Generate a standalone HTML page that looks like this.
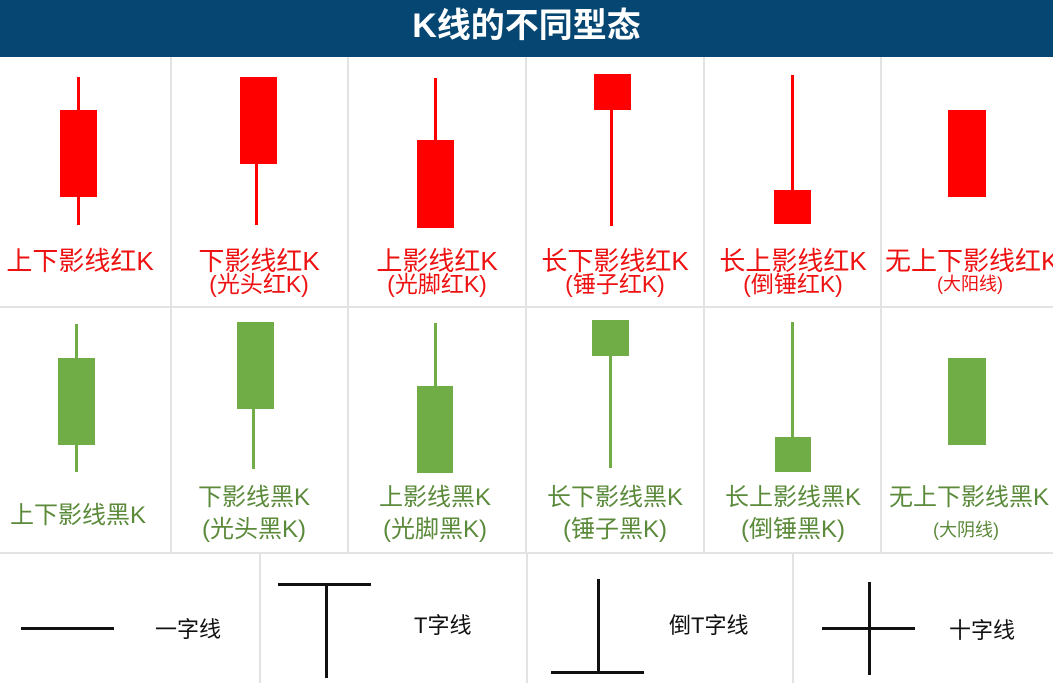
<!DOCTYPE html>
<html><head><meta charset="utf-8"><style>
*{margin:0;padding:0;box-sizing:border-box}
body{width:1053px;height:683px;background:#fff;position:relative;overflow:hidden;font-family:"Liberation Sans","Noto Sans CJK SC",sans-serif}
div{position:absolute}
.hd{left:0;top:0;width:1053px;height:57px;background:#054672;color:#fff;font-size:34px;font-weight:bold;text-align:center;line-height:52px}
.vl{width:2px;background:#e3e3e3}
.hl{height:2px;background:#e3e3e3}
.r{background:#ff0000}
.g{background:#70ad47}
.k{background:#111}
.t{width:178px;text-align:center;white-space:nowrap;line-height:1}
.tr{color:#ee1111}
.tg{color:#5a8a3a}
.b{font-size:26px}
.s{font-size:23px}
.x{font-size:18px}
.gg{font-size:24px}
.bk{color:#111;font-size:22px;white-space:nowrap;line-height:1}
</style></head><body>
<div class="hd">K线的不同型态</div>
<div class="hl" style="left:0;top:306px;width:1053px"></div>
<div class="hl" style="left:0;top:552px;width:1053px"></div>
<div class="vl" style="left:170px;top:57px;height:496px"></div>
<div class="vl" style="left:347px;top:57px;height:496px"></div>
<div class="vl" style="left:525px;top:57px;height:496px"></div>
<div class="vl" style="left:703px;top:57px;height:496px"></div>
<div class="vl" style="left:880px;top:57px;height:496px"></div>
<div class="vl" style="left:259px;top:553px;height:130px"></div>
<div class="vl" style="left:526px;top:553px;height:130px"></div>
<div class="vl" style="left:792px;top:553px;height:130px"></div>

<!-- red -->
<div class="r" style="left:77px;top:77px;width:3px;height:148px"></div>
<div class="r" style="left:60px;top:110px;width:37px;height:87px"></div>
<div class="r" style="left:255px;top:164px;width:3px;height:61px"></div>
<div class="r" style="left:240px;top:77px;width:37px;height:87px"></div>
<div class="r" style="left:434px;top:78px;width:3px;height:62px"></div>
<div class="r" style="left:417px;top:140px;width:37px;height:88px"></div>
<div class="r" style="left:610px;top:110px;width:3px;height:116px"></div>
<div class="r" style="left:594px;top:74px;width:37px;height:36px"></div>
<div class="r" style="left:791px;top:75px;width:3px;height:115px"></div>
<div class="r" style="left:774px;top:190px;width:37px;height:34px"></div>
<div class="r" style="left:948px;top:110px;width:38px;height:87px"></div>

<div class="t tr b" style="left:-9px;top:248px">上下影线红K</div>
<div class="t tr b" style="left:170px;top:248px">下影线红K</div>
<div class="t tr s" style="left:170px;top:273px">(光头红K)</div>
<div class="t tr b" style="left:348px;top:248px">上影线红K</div>
<div class="t tr s" style="left:348px;top:273px">(光脚红K)</div>
<div class="t tr b" style="left:526px;top:248px">长下影线红K</div>
<div class="t tr s" style="left:526px;top:273px">(锤子红K)</div>
<div class="t tr b" style="left:885px;top:248px;text-align:left;width:200px">无上下影线红K</div>
<div class="t tr b" style="left:704px;top:248px">长上影线红K</div>
<div class="t tr s" style="left:704px;top:273px">(倒锤红K)</div>
<div class="t tr x" style="left:881px;top:275px">(大阳线)</div>

<!-- green -->
<div class="g" style="left:75px;top:324px;width:3px;height:148px"></div>
<div class="g" style="left:58px;top:358px;width:37px;height:87px"></div>
<div class="g" style="left:252px;top:409px;width:3px;height:60px"></div>
<div class="g" style="left:237px;top:322px;width:37px;height:87px"></div>
<div class="g" style="left:434px;top:323px;width:3px;height:63px"></div>
<div class="g" style="left:417px;top:386px;width:36px;height:87px"></div>
<div class="g" style="left:609px;top:356px;width:3px;height:112px"></div>
<div class="g" style="left:592px;top:320px;width:37px;height:36px"></div>
<div class="g" style="left:791px;top:322px;width:3px;height:115px"></div>
<div class="g" style="left:775px;top:437px;width:36px;height:35px"></div>
<div class="g" style="left:948px;top:358px;width:38px;height:87px"></div>

<div class="t tg gg" style="left:-11px;top:504px">上下影线黑K</div>
<div class="t tg gg" style="left:165px;top:486px">下影线黑K</div>
<div class="t tg gg" style="left:165px;top:518px">(光头黑K)</div>
<div class="t tg gg" style="left:346px;top:486px">上影线黑K</div>
<div class="t tg gg" style="left:346px;top:518px">(光脚黑K)</div>
<div class="t tg gg" style="left:526px;top:486px">长下影线黑K</div>
<div class="t tg gg" style="left:526px;top:518px">(锤子黑K)</div>
<div class="t tg gg" style="left:704px;top:486px">长上影线黑K</div>
<div class="t tg gg" style="left:704px;top:518px">(倒锤黑K)</div>
<div class="t tg gg" style="left:889px;top:486px;text-align:left;width:200px">无上下影线黑K</div>
<div class="t tg x" style="left:877px;top:521px">(大阴线)</div>

<!-- bottom -->
<div class="k" style="left:21px;top:627px;width:93px;height:3px"></div>
<div class="bk" style="left:155px;top:619px">一字线</div>
<div class="k" style="left:278px;top:583px;width:93px;height:3px"></div>
<div class="k" style="left:325px;top:583px;width:3px;height:95px"></div>
<div class="bk" style="left:414px;top:615px">T字线</div>
<div class="k" style="left:597px;top:579px;width:3px;height:94px"></div>
<div class="k" style="left:551px;top:671px;width:93px;height:3px"></div>
<div class="bk" style="left:669px;top:615px">倒T字线</div>
<div class="k" style="left:822px;top:627px;width:93px;height:3px"></div>
<div class="k" style="left:868px;top:582px;width:3px;height:93px"></div>
<div class="bk" style="left:949px;top:620px">十字线</div>
</body></html>
